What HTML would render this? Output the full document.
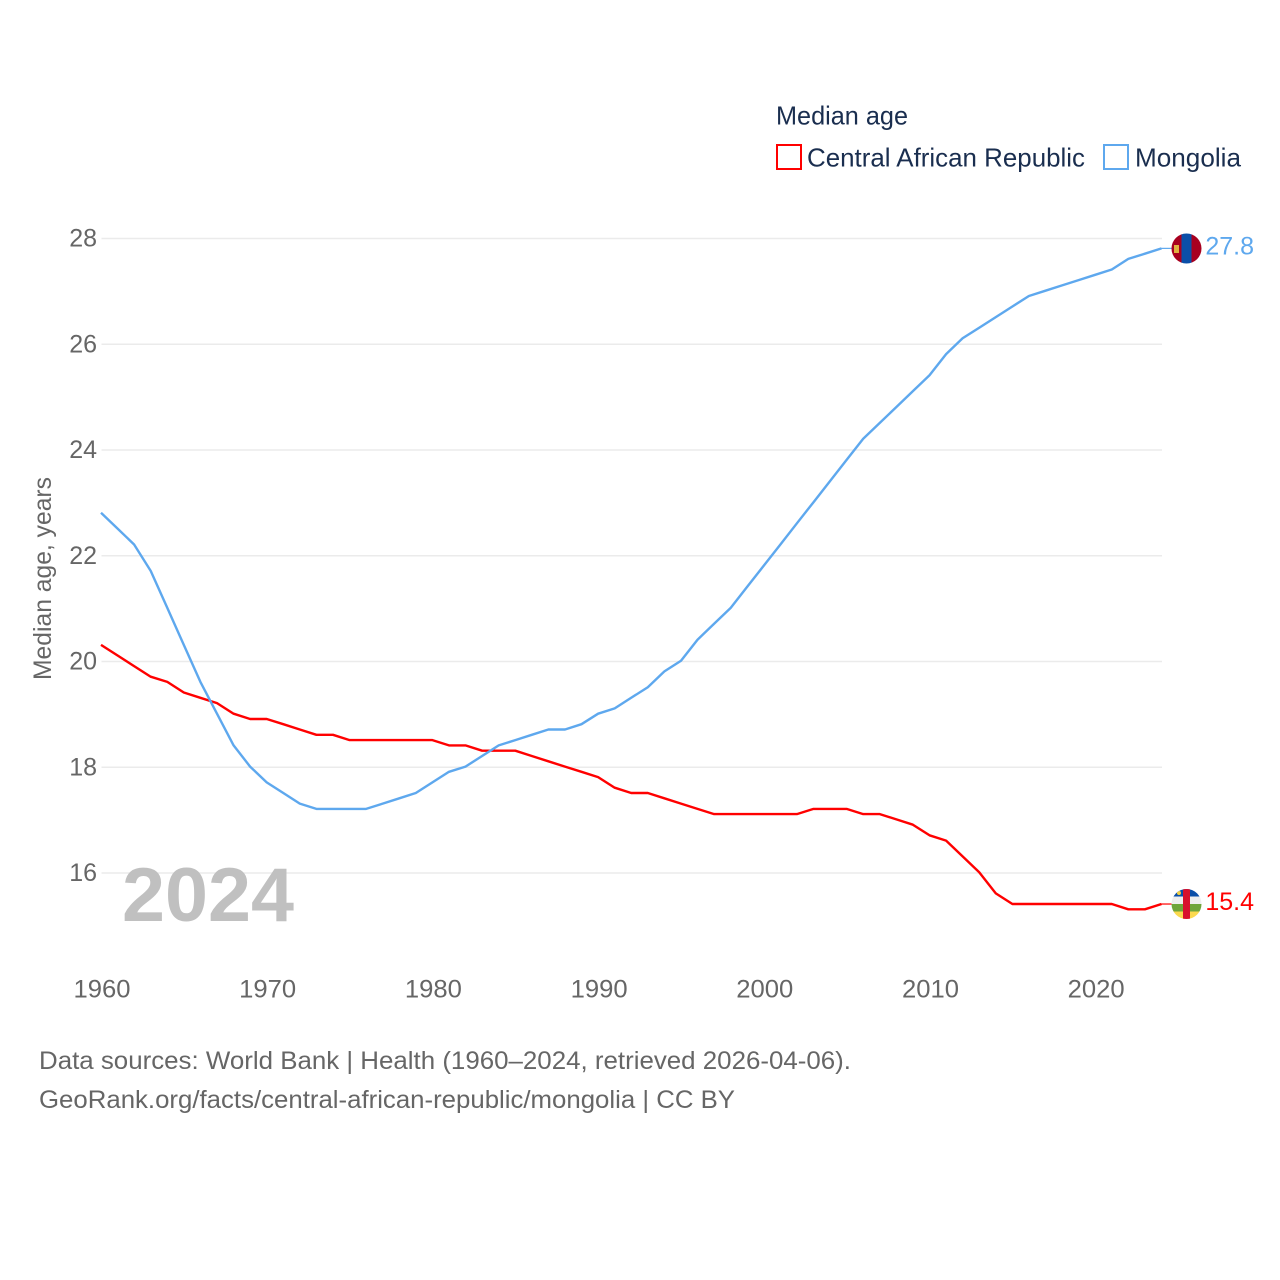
<!DOCTYPE html>
<html>
<head>
<meta charset="utf-8">
<style>
html,body{margin:0;padding:0;background:#fff}
svg{display:block}
text{font-family:"Liberation Sans",sans-serif}
</style>
</head>
<body>
<svg id="chart" xmlns="http://www.w3.org/2000/svg" width="1280" height="1280" viewBox="0 0 1280 1280">
  <rect width="1280" height="1280" fill="#fff"/>
  <g id="grid"></g>
  <g id="yticks"></g>
  <g id="xticks"></g>
  <text transform="translate(51,680) rotate(-90)" font-size="25" fill="#666" textLength="203" lengthAdjust="spacingAndGlyphs">Median age, years</text>
  <text x="122" y="921" font-size="76" font-weight="bold" fill="#c0c0c0" textLength="172" lengthAdjust="spacingAndGlyphs">2024</text>
  <g id="series" transform="translate(-0.5,-0.7)"></g>

  <g>
    <clipPath id="clip-mn"><circle cx="1186.5" cy="248.5" r="15"/></clipPath>
    <g clip-path="url(#clip-mn)">
      <rect x="1171" y="233" width="11" height="31" fill="#a8001f"/>
      <rect x="1181.5" y="233" width="10" height="31" fill="#0b4fa8"/>
      <rect x="1191.5" y="233" width="11" height="31" fill="#a8001f"/>
      <rect x="1174" y="245" width="5" height="8" fill="#e0b040"/>
    </g>
  </g>
  <g>
    <clipPath id="clip-cf"><circle cx="1186.5" cy="904" r="15"/></clipPath>
    <g clip-path="url(#clip-cf)">
      <rect x="1171" y="889" width="31" height="8" fill="#0b4fa8"/>
      <rect x="1171" y="896.5" width="31" height="7.5" fill="#eeeeee"/>
      <rect x="1171" y="904" width="31" height="7.5" fill="#6fa53a"/>
      <rect x="1171" y="911.5" width="31" height="8" fill="#fbd94e"/>
      <rect x="1183" y="889" width="7" height="31" fill="#d8102c"/>
      <circle cx="1179" cy="893" r="2" fill="#f2d040"/>
    </g>
  </g>

  <g>
    <text x="776" y="124.5" font-size="26" fill="#1a2e4f" textLength="132" lengthAdjust="spacingAndGlyphs">Median age</text>
    <rect x="777" y="145" width="24" height="24" fill="none" stroke="#ff0000" stroke-width="2"/>
    <text x="807" y="166.5" font-size="26" fill="#1a2e4f" textLength="278" lengthAdjust="spacingAndGlyphs">Central African Republic</text>
    <rect x="1104" y="145" width="24" height="24" fill="none" stroke="#5ea8ee" stroke-width="2"/>
    <text x="1135" y="166.5" font-size="26" fill="#1a2e4f" textLength="106" lengthAdjust="spacingAndGlyphs">Mongolia</text>
  </g>

  <text x="39" y="1069" font-size="25" fill="#666" textLength="812" lengthAdjust="spacingAndGlyphs">Data sources: World Bank | Health (1960–2024, retrieved 2026-04-06).</text>
  <text x="39" y="1108" font-size="25" fill="#666" textLength="696" lengthAdjust="spacingAndGlyphs">GeoRank.org/facts/central-african-republic/mongolia | CC BY</text>
</svg>
<script>
const startYear = 1960;
const yTickValues = [16, 18, 20, 22, 24, 26, 28];
const xTickValues = [1960, 1970, 1980, 1990, 2000, 2010, 2020];
const cafValues = [20.3,20.1,19.9,19.7,19.6,19.4,19.3,19.2,19.0,18.9,18.9,18.8,18.7,18.6,18.6,18.5,18.5,18.5,18.5,18.5,18.5,18.4,18.4,18.3,18.3,18.3,18.2,18.1,18.0,17.9,17.8,17.6,17.5,17.5,17.4,17.3,17.2,17.1,17.1,17.1,17.1,17.1,17.1,17.2,17.2,17.2,17.1,17.1,17.0,16.9,16.7,16.6,16.3,16.0,15.6,15.4,15.4,15.4,15.4,15.4,15.4,15.4,15.3,15.3,15.4];
const mongoliaValues = [22.8,22.5,22.2,21.7,21.0,20.3,19.6,19.0,18.4,18.0,17.7,17.5,17.3,17.2,17.2,17.2,17.2,17.3,17.4,17.5,17.7,17.9,18.0,18.2,18.4,18.5,18.6,18.7,18.7,18.8,19.0,19.1,19.3,19.5,19.8,20.0,20.4,20.7,21.0,21.4,21.8,22.2,22.6,23.0,23.4,23.8,24.2,24.5,24.8,25.1,25.4,25.8,26.1,26.3,26.5,26.7,26.9,27.0,27.1,27.2,27.3,27.4,27.6,27.7,27.8];

const NS = 'http://www.w3.org/2000/svg';
const xScale = year => 101.5 + (year - 1960) * 16.57;
const yScale = value => 873 - (value - 16) * 52.875;

function make(parent, tag, attrs, text) {
  const el = document.createElementNS(NS, tag);
  for (const k in attrs) el.setAttribute(k, attrs[k]);
  if (text !== undefined) el.textContent = text;
  parent.appendChild(el);
  return el;
}

const grid = document.getElementById('grid');
const yticks = document.getElementById('yticks');
const xticks = document.getElementById('xticks');
const seriesGroup = document.getElementById('series');

yTickValues.forEach(v => {
  const line = make(grid, 'line', {x1: 101.5, x2: 1162, y1: yScale(v), y2: yScale(v), stroke: '#ebebeb', 'stroke-width': 1.5});
  
  
  const label = make(yticks, 'text', {x: 97, y: yScale(v) + 8, 'text-anchor': 'end', 'font-size': 25, fill: '#666'}, String(v));
  
  
});

xTickValues.forEach(y => {
  const label = make(xticks, 'text', {x: xScale(y) + 0.5, y: 997.5, 'text-anchor': 'middle', 'font-size': 25, fill: '#666', textLength: 57, lengthAdjust: 'spacingAndGlyphs'}, String(y));
  
  
});

function drawSeries(values, color, name, flagX) {
  const pts = values.map((v, i) => xScale(startYear + i).toFixed(1) + ',' + yScale(v).toFixed(1));
  const path = make(seriesGroup, 'polyline', {points: pts.join(' '), fill: 'none', stroke: color, 'stroke-width': 2.4, 'stroke-linejoin': 'round'});
  
  
  const last = values[values.length - 1];
  const lastY = yScale(last);
  const lastX = xScale(startYear + values.length - 1);
  const stub = make(seriesGroup, 'line', {x1: lastX, x2: flagX, y1: lastY, y2: lastY, stroke: color, 'stroke-width': 1.2});
  
  
  const label = make(seriesGroup, 'text', {x: 1254.5, y: lastY + 6, 'text-anchor': 'end', 'font-size': 25, fill: color}, last.toFixed(1));
  
  
}

drawSeries(cafValues, '#ff0000', 'central-african-republic', 1172);
drawSeries(mongoliaValues, '#5ea8ee', 'mongolia', 1172);
</script>
</body>
</html>
